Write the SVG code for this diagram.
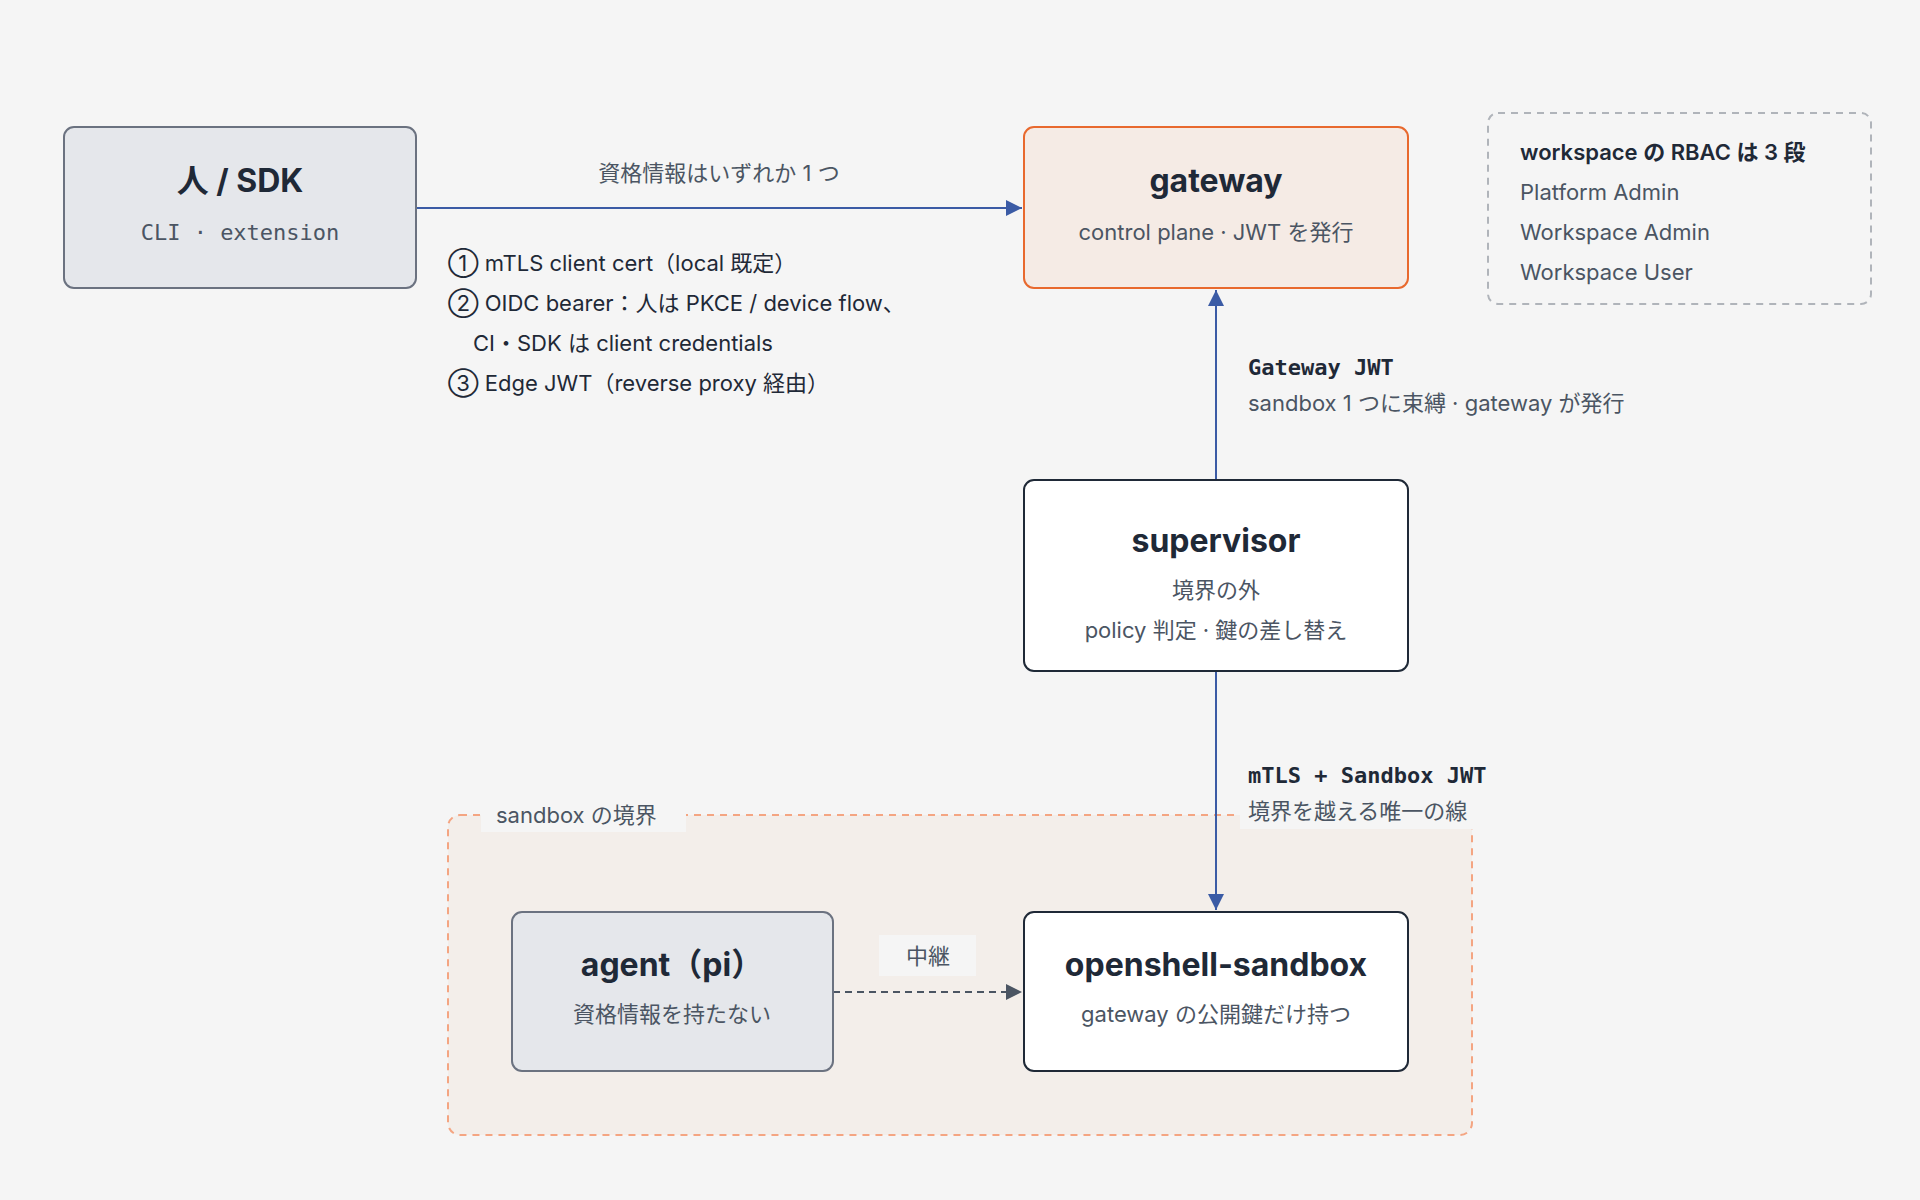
<svg xmlns="http://www.w3.org/2000/svg" width="1920" height="1200" viewBox="0 0 1920 1200">
<style>
text{font-family:Inter,"Noto Sans","Noto Sans CJK JP",sans-serif;fill:#374151}
.t{font-size:32px;font-weight:700;fill:#1f2937}
.s{font-size:22px;fill:#4b5563}
.m{font-family:"DejaVu Sans Mono","Liberation Mono","Noto Sans CJK JP",monospace}
.l{font-size:22px;fill:#1f2937}
.e{stroke:#3b5ba5;stroke-width:2;fill:none}
</style>
<defs>
<marker id="a" viewBox="0 0 10 10" refX="10" refY="5" markerWidth="8" markerHeight="8" orient="auto-start-reverse"><path d="M0,0L10,5L0,10z" fill="#3b5ba5"/></marker>
<marker id="g" viewBox="0 0 10 10" refX="10" refY="5" markerWidth="8" markerHeight="8" orient="auto"><path d="M0,0L10,5L0,10z" fill="#4b5563"/></marker>
</defs>
<rect width="1920" height="1200" fill="#f5f5f5"/>
<g id="boundary">
<rect x="448" y="815" width="1024" height="320" rx="12" fill="#f3eeea" stroke="#f4a582" stroke-width="2" stroke-dasharray="7 6"/>
<rect x="481" y="800" width="205" height="32" fill="#f5f5f5"/>
<text x="496" y="823" class="s">sandbox の境界</text>
</g>
<g id="rbac">
<rect x="1488" y="113" width="383" height="191" rx="10" fill="none" stroke="#b0b4ba" stroke-width="2" stroke-dasharray="7 6"/>
<text x="1520" y="160" class="l" font-weight="600">workspace の RBAC は 3 段</text>
<text x="1520" y="200" class="s">Platform Admin</text>
<text x="1520" y="240" class="s">Workspace Admin</text>
<text x="1520" y="280" class="s">Workspace User</text>
</g>
<g id="connectors">
<line x1="416" y1="208" x2="1022" y2="208" class="e" marker-end="url(#a)"/>
<text x="719" y="181" class="s" text-anchor="middle">資格情報はいずれか 1 つ</text>
<line x1="1216" y1="480" x2="1216" y2="290" class="e" marker-end="url(#a)"/>
<text x="1248" y="375" class="l m" font-weight="700">Gateway JWT</text>
<text x="1248" y="411" class="s">sandbox 1 つに束縛 · gateway が発行</text>
<line x1="1216" y1="671" x2="1216" y2="910" class="e" marker-end="url(#a)"/>
<rect x="1240" y="793" width="270" height="36" fill="#f5f5f5"/>
<text x="1248" y="783" class="l m" font-weight="700">mTLS + Sandbox JWT</text>
<text x="1248" y="819" class="s">境界を越える唯一の線</text>
<line x1="833" y1="992" x2="1022" y2="992" stroke="#4b5563" stroke-width="2" stroke-dasharray="7 5" marker-end="url(#g)"/>
<rect x="879" y="935" width="97" height="41" fill="#f5f5f5"/>
<text x="928" y="964" class="s" text-anchor="middle">中継</text>
</g>
<g id="notes">
<text x="448" y="271" class="l">① mTLS client cert（local 既定）</text>
<text x="448" y="311" class="l">② OIDC bearer：人は PKCE / device flow、</text>
<text x="473" y="351" class="l">CI・SDK は client credentials</text>
<text x="448" y="391" class="l">③ Edge JWT（reverse proxy 経由）</text>
</g>
<g id="human">
<rect x="64" y="127" width="352" height="161" rx="10" fill="#e5e7eb" stroke="#6b7280" stroke-width="2"/>
<text x="240" y="192" class="t" text-anchor="middle">人 / SDK</text>
<text x="240" y="240" class="s m" text-anchor="middle">CLI · extension</text>
</g>
<g id="gateway">
<rect x="1024" y="127" width="384" height="161" rx="10" fill="#f5ebe5" stroke="#e8692e" stroke-width="2"/>
<text x="1216" y="192" class="t" text-anchor="middle">gateway</text>
<text x="1216" y="240" class="s" text-anchor="middle">control plane · JWT を発行</text>
</g>
<g id="supervisor">
<rect x="1024" y="480" width="384" height="191" rx="10" fill="#fff" stroke="#1f2937" stroke-width="2"/>
<text x="1216" y="552" class="t" text-anchor="middle">supervisor</text>
<text x="1216" y="598" class="s" text-anchor="middle">境界の外</text>
<text x="1216" y="638" class="s" text-anchor="middle">policy 判定 · 鍵の差し替え</text>
</g>
<g id="agent">
<rect x="512" y="912" width="321" height="159" rx="10" fill="#e5e7eb" stroke="#6b7280" stroke-width="2"/>
<text x="672" y="976" class="t" text-anchor="middle">agent（pi）</text>
<text x="672" y="1022" class="s" text-anchor="middle">資格情報を持たない</text>
</g>
<g id="openshell">
<rect x="1024" y="912" width="384" height="159" rx="10" fill="#fff" stroke="#1f2937" stroke-width="2"/>
<text x="1216" y="976" class="t" text-anchor="middle">openshell-sandbox</text>
<text x="1216" y="1022" class="s" text-anchor="middle">gateway の公開鍵だけ持つ</text>
</g>
</svg>
